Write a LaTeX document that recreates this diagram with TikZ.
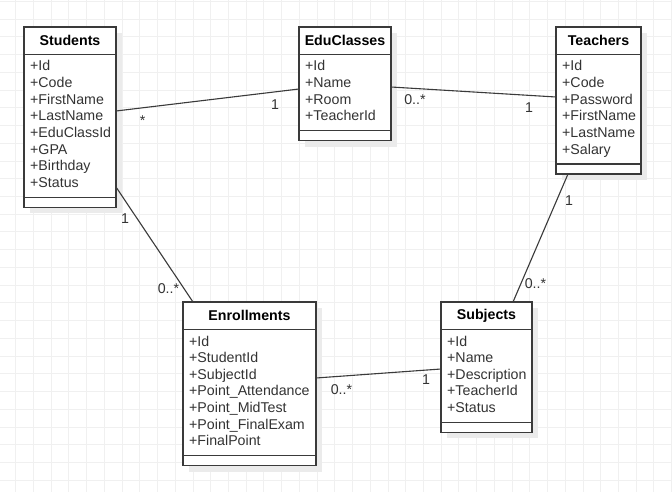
\documentclass[tikz,border=0pt]{standalone}
\usepackage{fontspec}
\setmainfont{Liberation Sans}
\usetikzlibrary{calc}
\definecolor{gridc}{HTML}{F0F0F0}
\definecolor{shadc}{HTML}{EBEBEB}
\definecolor{linec}{HTML}{3A3A3A}
\definecolor{txtc}{HTML}{333333}
\tikzset{
 classbox/.style={draw=linec, line width=1.3pt, fill=white, inner sep=0pt, outer sep=0pt, anchor=north west},
 attr/.style={font=\fontsize{14.2}{16}\selectfont, text=txtc, inner sep=0pt, anchor=base west},
 ctitle/.style={font=\fontsize{14.2}{16}\selectfont\bfseries, text=black, inner sep=0pt},
 mult/.style={font=\fontsize{14.2}{16}\selectfont, text=txtc, inner sep=0pt, anchor=base},
 conn/.style={draw=linec, line width=1.1pt},
 sepline/.style={draw=linec, line width=1.3pt},
 gridline/.style={draw=gridc, line width=1pt},
}
\newcommand{\umlclass}[6]{%
 \gdef\umln{0}%
 \foreach \a [count=\i] in {#6} {\xdef\umln{\i}}%
 \pgfmathsetmacro\umlh{64+16.6*(\umln-1)}%
 \fill[shadc] ({#2+6},{#3+6}) rectangle ++(#4,\umlh);
 \node[classbox, minimum width=#4pt, minimum height=\umlh pt] (#1) at (#2,#3) {};
 \node[ctitle] (#1-title) at ($(#1.north)+(0,13.75)$) {#5};
 \draw[sepline] ($(#1.north west)+(0,27.5)$) -- ($(#1.north east)+(0,27.5)$);
 \draw[sepline] ($(#1.south west)+(0,-10)$) -- ($(#1.south east)+(0,-10)$);
 \foreach \a [count=\i] in {#6} {\node[attr] (#1-\i) at ({#2+6},{#3+44+16.6*(\i-1)}) {\a};}
}
\begin{document}
\begin{tikzpicture}[x=1pt,y=-1pt]
\useasboundingbox (0,0) rectangle (672,492);
\fill[white] (0,0) rectangle (672,492);
% background grid
\foreach \k in {0,...,37} {\draw[gridline] ({15.7+17.73*\k},0) -- ++(0,492);}
\foreach \k in {0,...,27} {\draw[gridline] (0,{1.5+17.73*\k}) -- ++(672,0);}
% classes
\umlclass{stu}{24}{27}{92}{Students}{+Id,+Code,+FirstName,+LastName,+EduClassId,+GPA,+Birthday,+Status}
\umlclass{edu}{299}{27}{92}{EduClasses}{+Id,+Name,+Room,+TeacherId}
\umlclass{tea}{556}{27}{85}{Teachers}{+Id,+Code,+Password,+FirstName,+LastName,+Salary}
\umlclass{enr}{183}{302}{133}{Enrollments}{+Id,+StudentId,+SubjectId,+Point\_Attendance,+Point\_MidTest,+Point\_FinalExam,+FinalPoint}
\umlclass{sub}{441}{302}{91}{Subjects}{+Id,+Name,+Description,+TeacherId,+Status}
% connectors
\draw[conn] ($(stu.north east)+(0,84)$) -- ($(edu.north west)+(0,62)$);
\draw[conn] ($(edu.north east)+(0,60)$) -- ($(tea.north west)+(0,70)$);
\draw[conn] ($(stu.north east)+(0,160)$) -- ($(enr.north west)+(10,0)$);
\draw[conn] ($(tea.south west)+(12,0)$) -- ($(sub.north west)+(72,0)$);
\draw[conn] ($(enr.north east)+(0,76)$) -- ($(sub.north west)+(0,67)$);
% multiplicities
\node[mult] (m1) at (142.7,126) {*};
\node[mult] (m2) at (275,110) {1};
\node[mult] (m3) at (415,105) {0..*};
\node[mult] (m4) at (529,113) {1};
\node[mult] (m5) at (125,223) {1};
\node[mult] (m6) at (168.5,293) {0..*};
\node[mult] (m7) at (569,205) {1};
\node[mult] (m8) at (535.5,288) {0..*};
\node[mult] (m9) at (341.5,394) {0..*};
\node[mult] (m10) at (426,384) {1};
\end{tikzpicture}
\end{document}
